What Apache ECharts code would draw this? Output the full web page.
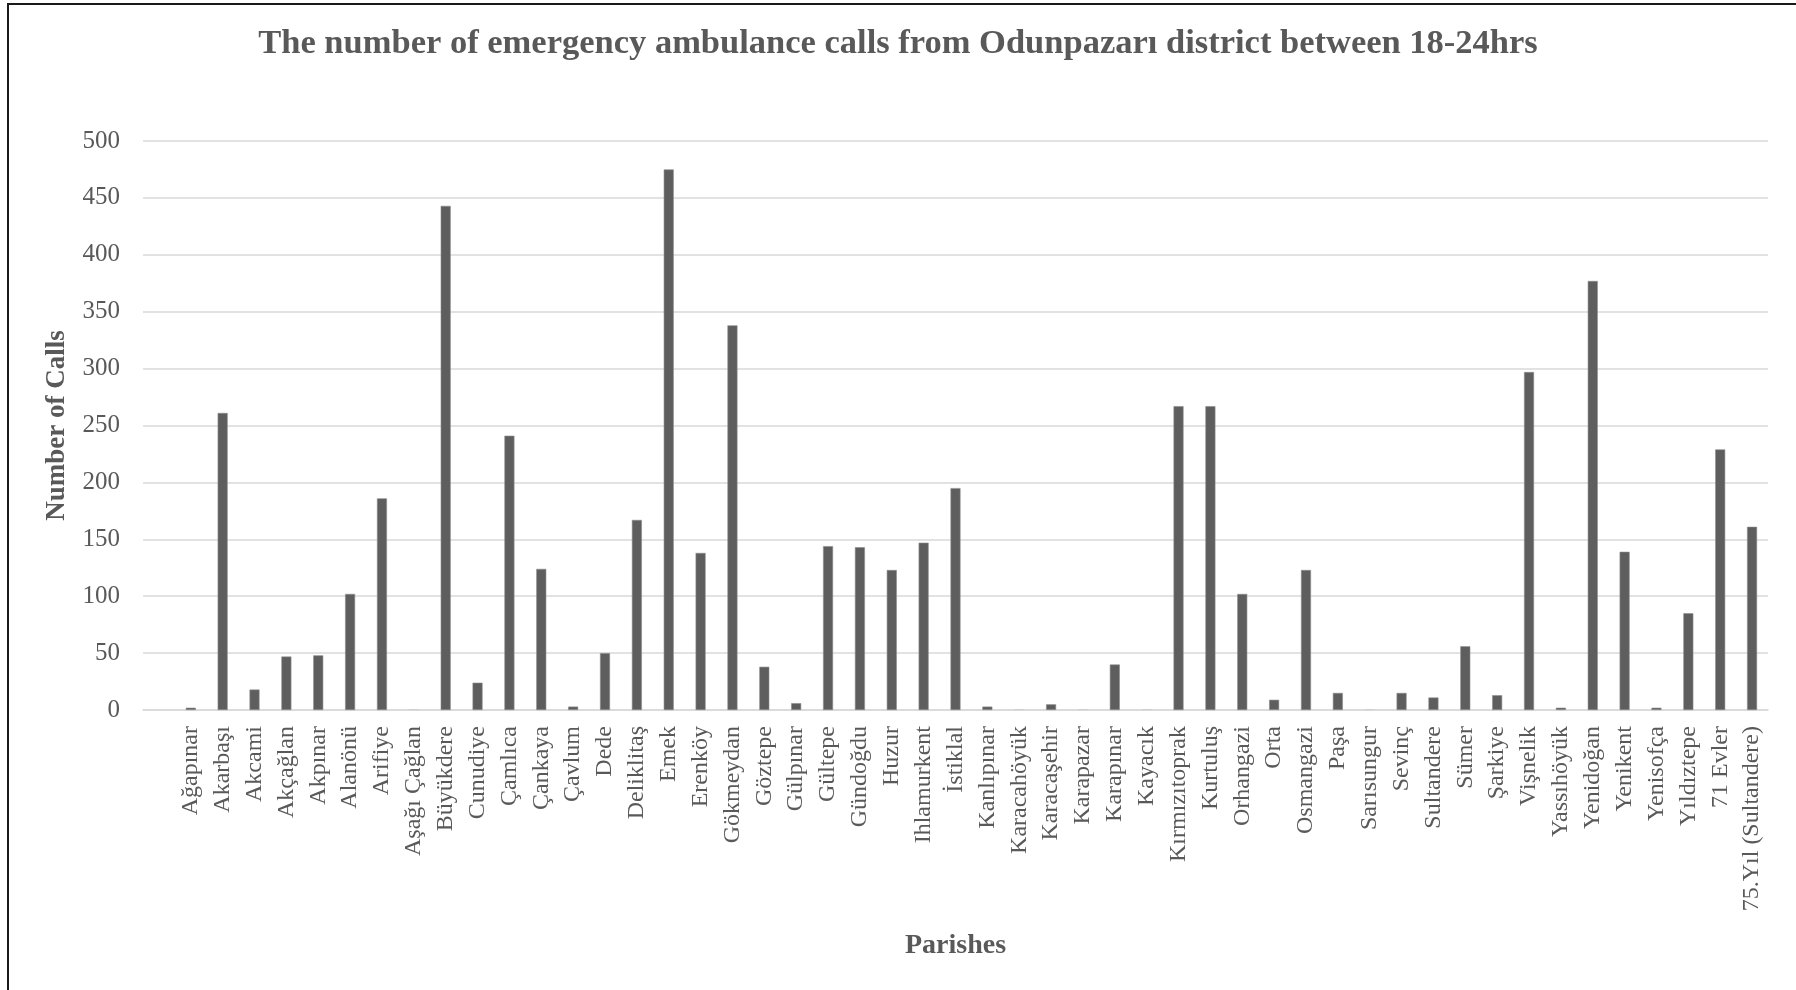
<!DOCTYPE html>
<html>
<head>
<meta charset="utf-8">
<script src="https://cdn.jsdelivr.net/npm/echarts@6/dist/echarts.min.js"></script>
<style>
  html, body { margin: 0; padding: 0; background: #ffffff; }
  #chart { width: 1796px; height: 990px; }
</style>
</head>
<body>
<div id="chart"></div>
<script>
// Parishes of Odunpazarı (first slot is an empty lead-in category)
const parishes = [
  '', 'Ağapınar', 'Akarbaşı', 'Akcami', 'Akçağlan', 'Akpınar', 'Alanönü', 'Arifiye',
  'Aşağı Çağlan', 'Büyükdere', 'Cunudiye', 'Çamlıca', 'Çankaya', 'Çavlum', 'Dede',
  'Deliklitaş', 'Emek', 'Erenköy', 'Gökmeydan', 'Göztepe', 'Gülpınar', 'Gültepe',
  'Gündoğdu', 'Huzur', 'Ihlamurkent', 'İstiklal', 'Kanlıpınar', 'Karacahöyük',
  'Karacaşehir', 'Karapazar', 'Karapınar', 'Kayacık', 'Kırmızıtoprak', 'Kurtuluş',
  'Orhangazi', 'Orta', 'Osmangazi', 'Paşa', 'Sarısungur', 'Sevinç', 'Sultandere',
  'Sümer', 'Şarkiye', 'Vişnelik', 'Yassıhöyük', 'Yenidoğan', 'Yenikent', 'Yenisofça',
  'Yıldıztepe', '71 Evler', '75.Yıl (Sultandere)'
];

// Emergency ambulance calls between 18:00 and 24:00
const calls = [
  null, 2, 261, 18, 47, 48, 102, 186,
  0, 443, 24, 241, 124, 3, 50,
  167, 475, 138, 338, 38, 6, 144,
  143, 123, 147, 195, 3, 0,
  5, 0, 40, 0, 267, 267,
  102, 9, 123, 15, 0, 15, 11,
  56, 13, 297, 2, 377, 139, 2,
  85, 229, 161
];

const yTicks = { min: 0, max: 500, step: 50 };

const titleText = 'The number of emergency ambulance calls from Odunpazarı district between 18-24hrs';
const xName = 'Parishes';
const yName = 'Number of Calls';

const serif = '"Liberation Serif", "DejaVu Serif", serif';
const textGrey = '#595959';

const barData = calls.map(v => {
  if (v === null) return '-';
  if (v === 0) return { value: 0, itemStyle: { color: '#cfcfcf', borderWidth: 0 } };
  return v;
});

const chart = echarts.init(document.getElementById('chart'), null, { renderer: 'canvas' });

chart.setOption({
  backgroundColor: '#ffffff',
  animation: false,
  title: {
    text: titleText,
    left: 'center',
    top: 22,
    textStyle: { fontFamily: serif, fontSize: 34.5, fontWeight: 'bold', color: textGrey }
  },
  grid: { left: 143, right: 28, top: 141, bottom: 280, containLabel: false },
  xAxis: {
    type: 'category',
    data: parishes,
    boundaryGap: true,
    name: xName,
    nameLocation: 'middle',
    nameGap: 222,
    nameTextStyle: { fontFamily: serif, fontSize: 28, fontWeight: 'bold', color: textGrey },
    axisLine: { show: true, lineStyle: { color: '#d9d9d9', width: 1.5 } },
    axisTick: { show: false },
    axisLabel: {
      interval: 0,
      rotate: 90,
      margin: 16,
      fontFamily: serif,
      fontSize: 24,
      color: textGrey
    }
  },
  yAxis: {
    type: 'value',
    min: yTicks.min,
    max: yTicks.max,
    interval: yTicks.step,
    name: yName,
    nameLocation: 'middle',
    nameGap: 72,
    nameTextStyle: { fontFamily: serif, fontSize: 27, fontWeight: 'bold', color: textGrey },
    axisLine: { show: false },
    axisTick: { show: false },
    axisLabel: { margin: 23, fontFamily: serif, fontSize: 25, color: textGrey },
    splitLine: { show: true, lineStyle: { color: '#d9d9d9', width: 1.5 } }
  },
  series: [{
    type: 'bar',
    data: barData,
    barWidth: 10,
    barMinHeight: 1,
    itemStyle: { color: '#5e5e5e', borderColor: '#8c8c8c', borderWidth: 0.6 }
  }],
  graphic: [
    { type: 'line', shape: { x1: 8, y1: 3, x2: 8, y2: 990 }, style: { stroke: '#1a1a1a', lineWidth: 2 } },
    { type: 'line', shape: { x1: 7, y1: 4, x2: 1796, y2: 4 }, style: { stroke: '#1a1a1a', lineWidth: 2 } }
  ]
});
</script>
</body>
</html>
